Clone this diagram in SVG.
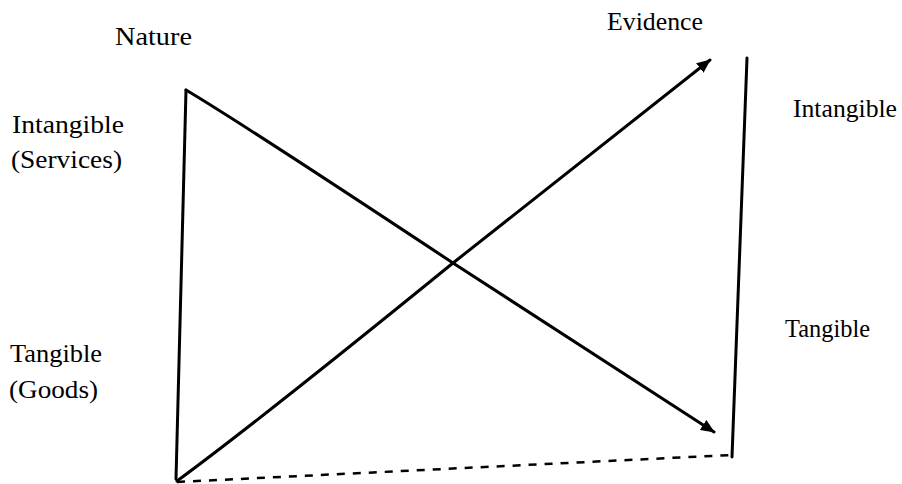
<svg xmlns="http://www.w3.org/2000/svg" width="902" height="484" viewBox="0 0 902 484">
<style>
.lbl{font-family:"Liberation Serif","Times New Roman",serif;font-size:25px;fill:#000}
.ln{fill:none;stroke:#000;stroke-width:3;stroke-linecap:round;stroke-linejoin:round}
.dash{fill:none;stroke:#000;stroke-width:2.5;stroke-dasharray:8 8}
</style>
<defs>
<marker id="ah" markerWidth="14" markerHeight="12" refX="13" refY="6" orient="auto" markerUnits="userSpaceOnUse">
<path d="M0,0 L14,6 L0,12 Z" fill="#000"/>
</marker>
</defs>
<rect width="902" height="484" fill="#fff"/>
<g id="labels">
<text id="nature" class="lbl" x="115" y="45" font-size="26" textLength="77" lengthAdjust="spacingAndGlyphs">Nature</text>
<text id="evidence" class="lbl" x="607" y="30" textLength="96" lengthAdjust="spacingAndGlyphs">Evidence</text>
<text id="intangible-services" class="lbl"><tspan x="12" y="133" textLength="112" lengthAdjust="spacingAndGlyphs">Intangible</tspan><tspan x="11" y="168" textLength="111" lengthAdjust="spacingAndGlyphs">(Services)</tspan></text>
<text id="tangible-goods" class="lbl"><tspan x="10" y="362" textLength="92" lengthAdjust="spacingAndGlyphs">Tangible</tspan><tspan x="9" y="398" textLength="89" lengthAdjust="spacingAndGlyphs">(Goods)</tspan></text>
<text id="intangible-right" class="lbl" x="793" y="117" textLength="104" lengthAdjust="spacingAndGlyphs">Intangible</text>
<text id="tangible-right" class="lbl" x="785" y="337" textLength="85" lengthAdjust="spacingAndGlyphs">Tangible</text>
</g>
<g id="connectors">
<path id="left-axis" class="ln" d="M186,90 L176,479"/>
<path id="right-axis" class="ln" d="M747,58 L732,457"/>
<path id="nature-line" class="ln" d="M186,90 Q240,122 453,263 L714,432" marker-end="url(#ah)"/>
<path id="evidence-line" class="ln" d="M177,481 Q260,420 453,263 L710,60" marker-end="url(#ah)"/>
<path id="base" class="dash" d="M177,482 L731,455"/>
</g>
</svg>
